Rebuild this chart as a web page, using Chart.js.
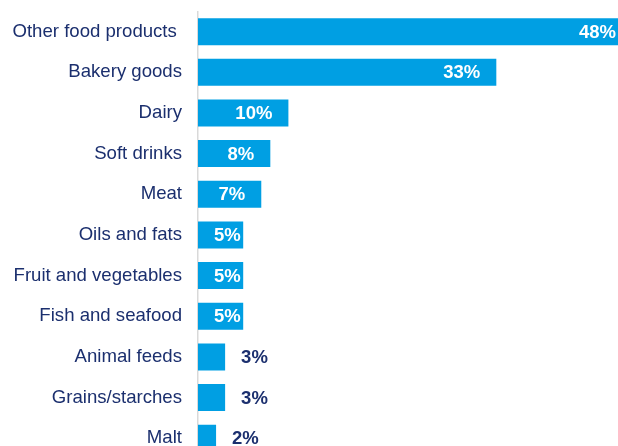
<!DOCTYPE html>
<html>
<head>
<meta charset="utf-8">
<title>Food industry segments</title>
<script src="https://cdn.jsdelivr.net/npm/chart.js@4.4.0/dist/chart.umd.min.js"></script>
<style>
  html, body { margin: 0; padding: 0; background: #fff; overflow: hidden; }
  #wrap { width: 650px; height: 460px; }
</style>
</head>
<body>
<div id="wrap"><canvas id="share-chart" width="650" height="460"></canvas></div>
<script>
// Share of food segments (%)
const categories = [
    "Other food products ",
    "Bakery goods",
    "Dairy",
    "Soft drinks",
    "Meat",
    "Oils and fats",
    "Fruit and vegetables",
    "Fish and seafood",
    "Animal feeds",
    "Grains/starches",
    "Malt",
];
const shares = [48, 33, 10, 8, 7, 5, 5, 5, 3, 3, 2];

const barBlue = "#009FE3";
const navy = "#1B2F6E";
const fontFamily = "'Liberation Sans', Arial, sans-serif";

// Value labels: white inside the bar, navy after short bars
const valueLabels = {
    id: "valueLabels",
    afterDatasetsDraw(chart) {
        const ctx = chart.ctx;
        const meta = chart.getDatasetMeta(0);
        ctx.save();
        ctx.font = "bold 18.5px " + fontFamily;
        ctx.textBaseline = "middle";
        meta.data.forEach((bar, i) => {
            const text = shares[i] + "%";
            const w = ctx.measureText(text).width;
            if (shares[i] >= 5) {
                ctx.fillStyle = "#ffffff";
                ctx.textAlign = "right";
                const right = Math.max(bar.x - 16, bar.base + 16 + w);
                ctx.fillText(text, right, bar.y + 1);
            } else {
                ctx.fillStyle = navy;
                ctx.textAlign = "left";
                ctx.fillText(text, bar.x + 16, bar.y + 1);
            }
        });
        ctx.restore();
    },
};

new Chart(document.getElementById("share-chart"), {
    type: "bar",
    data: {
        labels: categories,
        datasets: [
            {
                data: shares,
                backgroundColor: barBlue,
                borderWidth: 0,
                barPercentage: 0.664,
                categoryPercentage: 1,
            },
        ],
    },
    options: {
        indexAxis: "y",
        responsive: false,
        animation: false,
        layout: { padding: { top: 11.3, bottom: 1.4, right: 0, left: 0 } },
        plugins: {
            legend: { display: false },
            tooltip: { enabled: false },
        },
        scales: {
            x: {
                display: false,
                min: 0,
                max: 50,
            },
            y: {
                grid: { display: false, drawTicks: false },
                border: { display: true, color: "#d9d9d9", width: 1.5 },
                ticks: {
                    color: navy,
                    padding: 16,
                    font: { family: fontFamily, size: 18.6 },
                },
                afterFit(scale) {
                    // fixed label column; no extra room above/below for tick text
                    scale.width = 198;
                    scale.paddingTop = 0;
                    scale.paddingBottom = 0;
                },
            },
        },
    },
    plugins: [valueLabels],
});
</script>
</body>
</html>
